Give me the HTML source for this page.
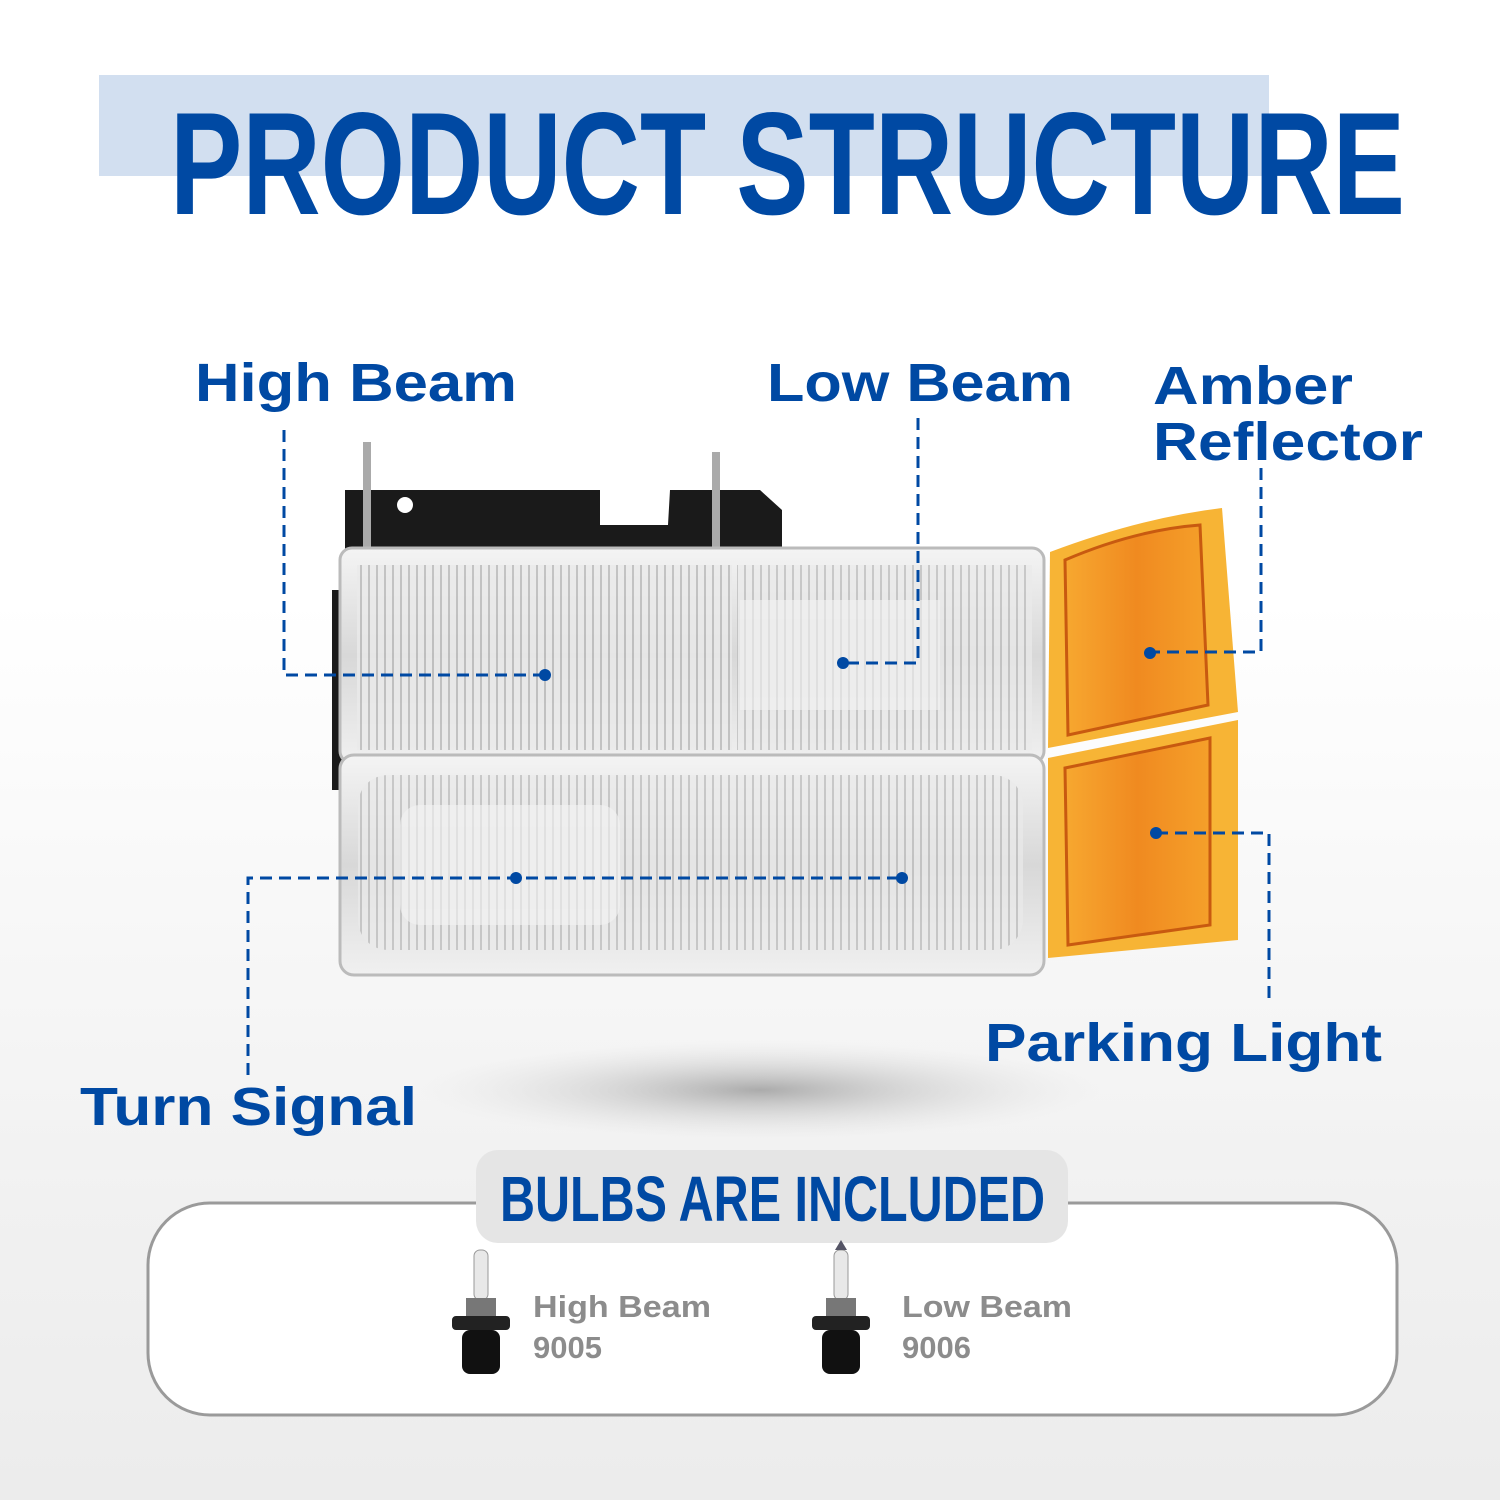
<!DOCTYPE html>
<html><head><meta charset="utf-8"><style>
html,body{margin:0;padding:0;}
body{width:1500px;height:1500px;overflow:hidden;background:linear-gradient(#ffffff 0%,#ffffff 40%,#f1f1f1 80%,#ececec 100%);}
svg{display:block}
</style></head><body>
<svg width="1500" height="1500" viewBox="0 0 1500 1500" xmlns="http://www.w3.org/2000/svg">
<defs>
<radialGradient id="sh" cx="50%" cy="50%" r="50%"><stop offset="0" stop-color="#999" stop-opacity=".8"/><stop offset="1" stop-color="#ddd" stop-opacity="0"/></radialGradient>
<linearGradient id="chrome" x1="0" y1="0" x2="0" y2="1"><stop offset="0" stop-color="#f4f4f4"/><stop offset=".5" stop-color="#d8d8d8"/><stop offset="1" stop-color="#f0f0f0"/></linearGradient>
<pattern id="ribs" width="8" height="10" patternUnits="userSpaceOnUse"><rect width="8" height="10" fill="#eaeaea"/><rect width="2" height="10" fill="#b8b8b8"/></pattern>
<linearGradient id="amb" x1="0" y1="0" x2="1" y2="0"><stop offset="0" stop-color="#f7a830"/><stop offset=".5" stop-color="#f08a20"/><stop offset="1" stop-color="#f5a02a"/></linearGradient>
</defs>
<rect x="99" y="75" width="1170" height="101" fill="#d2dff0"/>
<text x="170" y="214" font-family="Liberation Sans, sans-serif" font-weight="bold" font-size="146" fill="#0049a3" textLength="1235" lengthAdjust="spacingAndGlyphs">PRODUCT STRUCTURE</text>

<ellipse cx="760" cy="1090" rx="340" ry="50" fill="url(#sh)"/>

<!-- housing -->
<path d="M345 490 L600 490 L600 525 L668 525 L670 490 L760 490 L782 510 L782 555 L345 555 Z" fill="#1a1a1a"/>
<rect x="332" y="590" width="14" height="200" fill="#1a1a1a"/>
<circle cx="405" cy="505" r="8" fill="#fff"/>
<rect x="363" y="442" width="8" height="115" fill="#aaa"/>
<rect x="712" y="452" width="8" height="100" fill="#aaa"/>
<!-- upper lamp -->
<rect x="340" y="548" width="704" height="215" rx="12" fill="url(#chrome)" stroke="#bbb" stroke-width="3"/>
<rect x="357" y="565" width="375" height="185" fill="url(#ribs)" opacity=".8"/>
<rect x="737" y="565" width="295" height="185" fill="url(#ribs)" opacity=".7"/>
<rect x="740" y="600" width="200" height="110" fill="#f2f2f2" opacity=".6"/>
<!-- lower lamp -->
<rect x="340" y="755" width="704" height="220" rx="14" fill="url(#chrome)" stroke="#bbb" stroke-width="3"/>
<rect x="358" y="775" width="665" height="175" rx="30" fill="url(#ribs)" opacity=".7"/>
<rect x="400" y="805" width="220" height="120" rx="20" fill="#f4f4f4" opacity=".6"/>
<!-- amber -->
<path d="M1050 552 Q1140 518 1222 508 L1238 712 L1048 748 Z" fill="#f7b435"/>
<path d="M1065 560 Q1135 530 1200 525 L1208 705 L1068 735 Z" fill="url(#amb)" stroke="#c85a10" stroke-width="3"/>
<path d="M1048 758 L1238 720 L1238 940 L1048 958 Z" fill="#f7b435"/>
<path d="M1065 768 L1210 738 L1210 925 L1068 945 Z" fill="url(#amb)" stroke="#c85a10" stroke-width="3"/>

<!-- labels -->
<g font-family="Liberation Sans, sans-serif" font-weight="bold" fill="#0049a3" font-size="54">
<text x="195" y="401" textLength="322" lengthAdjust="spacingAndGlyphs">High Beam</text>
<text x="767" y="401" textLength="306" lengthAdjust="spacingAndGlyphs">Low Beam</text>
<text x="1153" y="404" textLength="200" lengthAdjust="spacingAndGlyphs">Amber</text>
<text x="1153" y="460" textLength="270" lengthAdjust="spacingAndGlyphs">Reflector</text>
<text x="985" y="1061" textLength="397" lengthAdjust="spacingAndGlyphs">Parking Light</text>
<text x="80" y="1125" textLength="337" lengthAdjust="spacingAndGlyphs">Turn Signal</text>
</g>
<g stroke="#0049a3" stroke-width="3" fill="none" stroke-dasharray="12 7">
<path d="M284 430 V675 H545"/>
<path d="M918 418 V663 H843"/>
<path d="M1261 468 V652 H1150"/>
<path d="M1156 833 H1269 V1003"/>
<path d="M248 1075 V878 H902"/>
</g>
<g fill="#0049a3">
<circle cx="545" cy="675" r="6"/><circle cx="843" cy="663" r="6"/><circle cx="1150" cy="653" r="6"/>
<circle cx="1156" cy="833" r="6"/><circle cx="516" cy="878" r="6"/><circle cx="902" cy="878" r="6"/>
</g>

<!-- bulbs box -->
<rect x="148" y="1203" width="1249" height="212" rx="62" fill="#fff" stroke="#9a9a9a" stroke-width="3"/>
<rect x="476" y="1150" width="592" height="93" rx="22" fill="#e5e5e5"/>
<text x="500" y="1221" font-family="Liberation Sans, sans-serif" font-weight="bold" font-size="64" fill="#0049a3" textLength="545" lengthAdjust="spacingAndGlyphs">BULBS ARE INCLUDED</text>
<g>
<rect x="474" y="1250" width="14" height="50" rx="6" fill="#e8e8e8" stroke="#999"/>
<rect x="466" y="1298" width="30" height="18" fill="#777"/>
<rect x="452" y="1316" width="58" height="14" rx="4" fill="#222"/>
<rect x="462" y="1330" width="38" height="44" rx="8" fill="#111"/>
<rect x="834" y="1250" width="14" height="50" rx="6" fill="#e8e8e8" stroke="#999"/>
<path d="M835 1250 L841 1240 L847 1250Z" fill="#556"/>
<rect x="826" y="1298" width="30" height="18" fill="#777"/>
<rect x="812" y="1316" width="58" height="14" rx="4" fill="#222"/>
<rect x="822" y="1330" width="38" height="44" rx="8" fill="#111"/>
</g>
<g font-family="Liberation Sans, sans-serif" font-weight="bold" fill="#8c8c8c" font-size="31">
<text x="533" y="1317" textLength="178" lengthAdjust="spacingAndGlyphs">High Beam</text>
<text x="533" y="1358">9005</text>
<text x="902" y="1317" textLength="170" lengthAdjust="spacingAndGlyphs">Low Beam</text>
<text x="902" y="1358">9006</text>
</g>
</svg>
</body></html>
